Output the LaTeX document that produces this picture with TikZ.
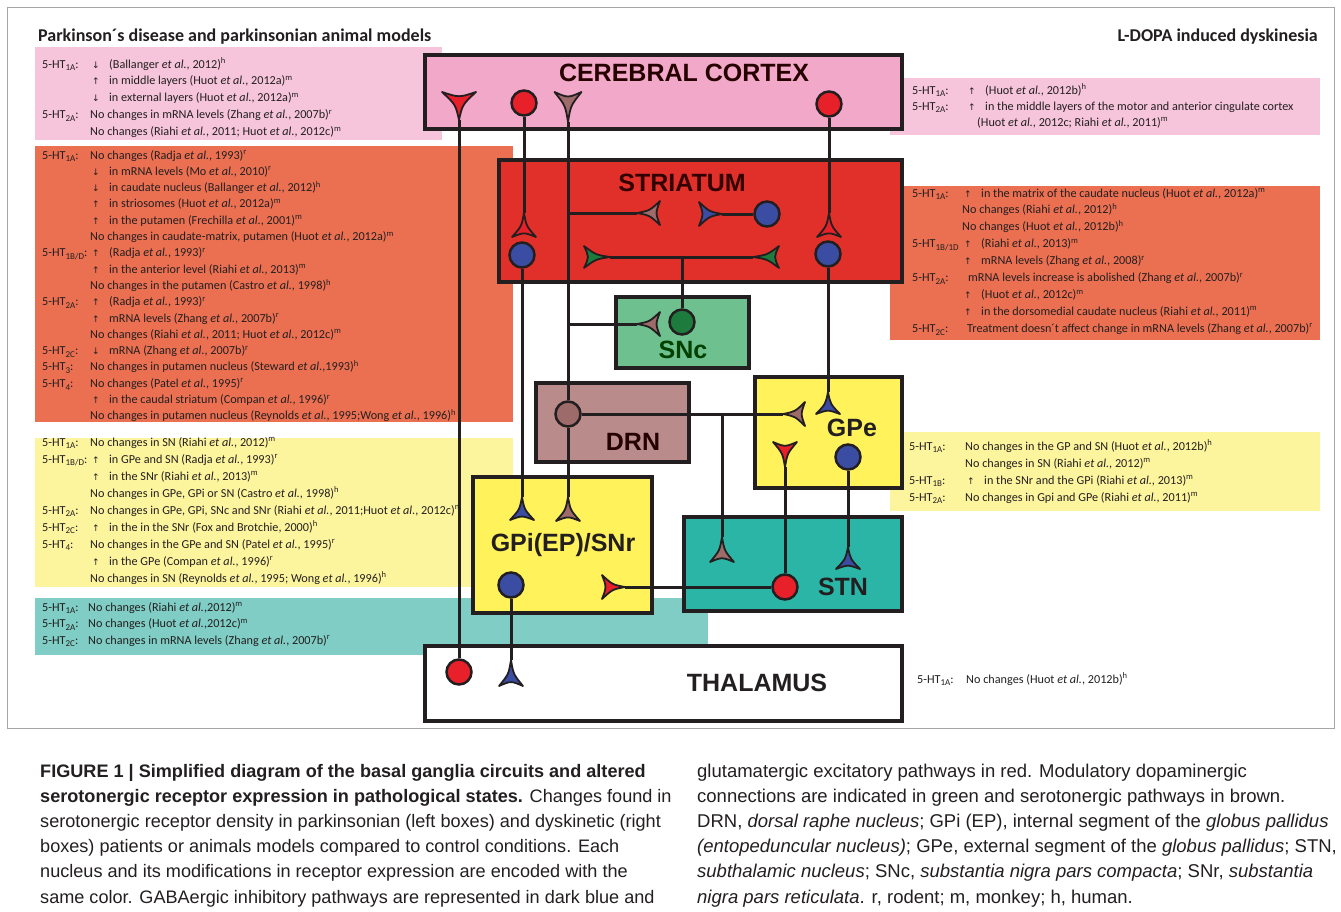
\documentclass[tikz,border=0pt]{standalone}
\usepackage{fontspec}
\setmainfont{Carlito}
\newfontfamily\lblfont{Liberation Sans}
\newfontfamily\capfont{Liberation Sans}
\newfontfamily\arrfont{DejaVu Sans}
\usetikzlibrary{fit}

\definecolor{edge}{HTML}{231F20}
\definecolor{txt}{HTML}{231F20}
\definecolor{tpink}{HTML}{F6C5DB}
\definecolor{cpink}{HTML}{F1A8C9}
\definecolor{torange}{HTML}{EB7052}
\definecolor{sred}{HTML}{E1302A}
\definecolor{sncg}{HTML}{6EC18E}
\definecolor{drnc}{HTML}{B98B8A}
\definecolor{nyel}{HTML}{FFF25B}
\definecolor{tyel}{HTML}{FDF59E}
\definecolor{stnt}{HTML}{2BB5A6}
\definecolor{tteal}{HTML}{7FCDC5}
\definecolor{cred}{HTML}{E8202A}
\definecolor{cblue}{HTML}{3A4DA2}
\definecolor{cbrown}{HTML}{9D6C6A}
\definecolor{cgreen}{HTML}{1E7B3E}

\newlength\lw
\newcommand\sbx[1]{\raisebox{-0.5ex}{\fontsize{9}{9}\selectfont #1}}
\newcommand\HT[1]{5-HT\sbx{#1}:}
\newcommand\HTn[1]{5-HT\sbx{#1}}
\newcommand\Lab[1]{\makebox[\lw][l]{\HT{#1}}}
\newcommand\Labn[1]{\makebox[\lw][l]{\HTn{#1}}}
\newcommand\Ind{\makebox[\lw]{}}
\newcommand\Up{\makebox[19pt][l]{\hspace{2pt}{\arrfont\fontsize{9}{9}\selectfont ↑}}}
\newcommand\Dn{\makebox[19pt][l]{\hspace{2pt}{\arrfont\fontsize{9}{9}\selectfont ↓}}}
\newcommand\etal{\textit{et al.}}
\newcommand\Sx[1]{\textsuperscript{#1}}

\tikzset{
  nbox/.style={draw=edge, line width=3.5pt, inner sep=0pt},
  wire/.style={draw=edge, line width=3pt},
  cell/.style={circle, draw=edge, line width=2.5pt, minimum size=25pt, inner sep=0pt},
  lab/.style={font=\lblfont\bfseries\fontsize{25}{25}\selectfont, inner sep=0pt},
  tblk/.style={anchor=base west, inner sep=0pt, text=txt, font=\fontsize{12.2}{#1}\selectfont},
  captxt/.style={anchor=base west, inner sep=0pt, text=txt, font=\capfont\fontsize{#1}{25.2}\selectfont},
  pics/syn/.style n args={3}{code={
    \filldraw[fill=#1, draw=edge, line width=1.8pt, line join=round]
      (0,0) .. controls ({0.55*#2},{0.1*#3}) .. ({#2},{0.5*#3})
      .. controls ({0.8*#2},0) .. ({#2},{-0.5*#3})
      .. controls ({0.55*#2},{-0.1*#3}) .. (0,0) -- cycle;
  }}
}

\begin{document}
\begin{tikzpicture}[x=1pt,y=-1pt]
\useasboundingbox (0,0) rectangle (1341,911);
\fill[white] (0,0) rectangle (1341,911);
\draw[black!35, line width=0.8pt] (7,7) rectangle (1334,728);

% headers
\node[anchor=base west, inner sep=0pt, text=txt, font=\bfseries\fontsize{18}{18}\selectfont] (hdL) at (38,41) {Parkinson´s disease and parkinsonian animal models};
\node[anchor=base east, inner sep=0pt, text=txt, font=\bfseries\fontsize{18}{18}\selectfont] (hdR) at (1318,41) {L-DOPA induced dyskinesia};

% text backgrounds
\fill[tpink] (35,47) rectangle (442,140);
\fill[torange] (35,146) rectangle (513,422);
\fill[tyel] (35,438) rectangle (513,587);
\fill[tteal] (35,598) rectangle (708,655);
\fill[tpink] (890,78) rectangle (1320,135);
\fill[torange] (890,186) rectangle (1320,340);
\fill[tyel] (890,432) rectangle (1320,511);

% left texts
\node[tblk=16.9] (tPinkL) at (42,68) {\parbox[t]{480pt}{\setlength\lw{48pt}%
\Lab{1A}\Dn(Ballanger \etal, 2012)\Sx{h}\\
\Ind\Up in middle layers (Huot \etal, 2012a)\Sx{m}\\
\Ind\Dn in external layers (Huot \etal, 2012a)\Sx{m}\\
\Lab{2A}No changes in mRNA levels (Zhang \etal, 2007b)\Sx{r}\\
\Ind No changes (Riahi \etal, 2011; Huot \etal, 2012c)\Sx{m}}};

\node[tblk=16.3] (tOrL) at (42,159) {\parbox[t]{480pt}{\setlength\lw{48pt}%
\Lab{1A}No changes (Radja \etal, 1993)\Sx{r}\\
\Ind\Dn in mRNA levels (Mo \etal, 2010)\Sx{r}\\
\Ind\Dn in caudate nucleus (Ballanger \etal, 2012)\Sx{h}\\
\Ind\Up in striosomes (Huot \etal, 2012a)\Sx{m}\\
\Ind\Up in the putamen (Frechilla \etal, 2001)\Sx{m}\\
\Ind No changes in caudate-matrix, putamen (Huot \etal, 2012a)\Sx{m}\\
\Lab{1B/D}\Up(Radja \etal, 1993)\Sx{r}\\
\Ind\Up in the anterior level (Riahi \etal, 2013)\Sx{m}\\
\Ind No changes in the putamen (Castro \etal, 1998)\Sx{h}\\
\Lab{2A}\Up(Radja \etal, 1993)\Sx{r}\\
\Ind\Up mRNA levels (Zhang \etal, 2007b)\Sx{r}\\
\Ind No changes (Riahi \etal, 2011; Huot \etal, 2012c)\Sx{m}\\
\Lab{2C}\Dn mRNA (Zhang \etal, 2007b)\Sx{r}\\
\Lab{3}No changes in putamen nucleus (Steward \etal,1993)\Sx{h}\\
\Lab{4}No changes (Patel \etal, 1995)\Sx{r}\\
\Ind\Up in the caudal striatum (Compan \etal, 1996)\Sx{r}\\
\Ind No changes in putamen nucleus (Reynolds \etal, 1995;Wong \etal, 1996)\Sx{h}}};

\node[tblk=17] (tYelL) at (42,446) {\parbox[t]{480pt}{\setlength\lw{48pt}%
\Lab{1A}No changes in SN (Riahi \etal, 2012)\Sx{m}\\
\Lab{1B/D}\Up in GPe and SN (Radja \etal, 1993)\Sx{r}\\
\Ind\Up in the SNr (Riahi \etal, 2013)\Sx{m}\\
\Ind No changes in GPe, GPi or SN (Castro \etal, 1998)\Sx{h}\\
\Lab{2A}No changes in GPe, GPi, SNc and SNr (Riahi \etal, 2011;Huot \etal, 2012c)\Sx{m}\\
\Lab{2C}\Up in the in the SNr (Fox and Brotchie, 2000)\Sx{h}\\
\Lab{4}No changes in the GPe and SN (Patel \etal, 1995)\Sx{r}\\
\Ind\Up in the GPe (Compan \etal, 1996)\Sx{r}\\
\Ind No changes in SN (Reynolds \etal, 1995; Wong \etal, 1996)\Sx{h}}};

\node[tblk=16.5] (tTealL) at (42,611) {\parbox[t]{480pt}{\setlength\lw{46pt}%
\Lab{1A}No changes (Riahi \etal,2012)\Sx{m}\\
\Lab{2A}No changes (Huot \etal,2012c)\Sx{m}\\
\Lab{2C}No changes in mRNA levels (Zhang \etal, 2007b)\Sx{r}}};

% right texts
\node[tblk=16] (tPinkR) at (912,94) {\parbox[t]{420pt}{\setlength\lw{54pt}%
\Lab{1A}\Up(Huot \etal, 2012b)\Sx{h}\\
\Lab{2A}\Up in the middle layers of the motor and anterior cingulate cortex\\
\Ind\hspace{11pt}(Huot \etal, 2012c; Riahi \etal, 2011)\Sx{m}}};

\node[tblk=16.9] (tOrR) at (912,197) {\parbox[t]{420pt}{\setlength\lw{50pt}%
\Lab{1A}\Up in the matrix of the caudate nucleus (Huot \etal, 2012a)\Sx{m}\\
\Ind No changes (Riahi \etal, 2012)\Sx{h}\\
\Ind No changes (Huot \etal, 2012b)\Sx{h}\\
\Labn{1B/1D}\Up(Riahi \etal, 2013)\Sx{m}\\
\Ind\Up mRNA levels (Zhang \etal, 2008)\Sx{r}\\
\Lab{2A}\hspace{6pt}mRNA levels increase is abolished (Zhang \etal, 2007b)\Sx{r}\\
\Ind\Up(Huot \etal, 2012c)\Sx{m}\\
\Ind\Up in the dorsomedial caudate nucleus (Riahi \etal, 2011)\Sx{m}\\
\Lab{2C}\hspace{5pt}Treatment doesn´t affect change in mRNA levels (Zhang \etal, 2007b)\Sx{r}}};

\node[tblk=17] (tYelR) at (909,450) {\parbox[t]{420pt}{\setlength\lw{56pt}%
\Lab{1A}No changes in the GP and SN (Huot \etal, 2012b)\Sx{h}\\
\Ind No changes in SN (Riahi \etal, 2012)\Sx{m}\\
\Lab{1B}\Up in the SNr and the GPi (Riahi \etal, 2013)\Sx{m}\\
\Lab{2A}No changes in Gpi and GPe (Riahi \etal, 2011)\Sx{m}}};

\node[tblk=17] (tThR) at (917,683) {\parbox[t]{420pt}{\setlength\lw{49pt}%
\Lab{1A}No changes (Huot \etal, 2012b)\Sx{h}}};

% nucleus boxes
\node[nbox, fill=cpink, fit={(425,55)(902,129)}] (ctx) {};
\node[nbox, fill=sred, fit={(499,160)(902,282)}] (str) {};
\node[nbox, fill=sncg, fit={(616,297)(749,368)}] (snc) {};
\node[nbox, fill=drnc, fit={(536,383)(689,462)}] (drn) {};
\node[nbox, fill=nyel, fit={(755,377)(902,488)}] (gpe) {};
\node[nbox, fill=nyel, fit={(473,477)(652,613)}] (gpi) {};
\node[nbox, fill=stnt, fit={(684,517)(902,611)}] (stn) {};
\node[nbox, fill=white, fit={(425,646)(902,721)}] (thal) {};

% labels
\node[lab, text=black!85!red] (lctx) at (684,73) {CEREBRAL CORTEX};
\node[lab, text=black!80!red] (lstr) at (682,183) {STRIATUM};
\node[lab, text=black!75!green] (lsnc) at (683,350) {SNc};
\node[lab, text=black!85!red] (ldrn) at (633,442) {DRN};
\node[lab, text=edge] (lgpe) at (852,428) {GPe};
\node[lab, text=edge] (lgpi) at (563,545) {GPi(EP)/SNr};
\node[lab, text=edge] (lstn) at (843,587) {STN};
\node[lab, text=edge] (lthal) at (757,683) {THALAMUS};

% cell bodies
\node[cell, fill=cred] (ctxR1) at (524,103) {};
\node[cell, fill=cred] (ctxR2) at (829,104) {};
\node[cell, fill=cblue] (strBl1) at (522,255) {};
\node[cell, fill=cblue] (strBl2) at (767,214) {};
\node[cell, fill=cblue] (strBl3) at (828,254) {};
\node[cell, fill=cgreen] (sncG) at (682,322) {};
\node[cell, fill=cbrown] (drnC) at (568,414) {};
\node[cell, fill=cblue] (gpeBl) at (848,457) {};
\node[cell, fill=cred] (stnR) at (785,587) {};
\node[cell, fill=cblue] (gpiBl) at (511,585) {};
\node[cell, fill=cred] (thR) at (459,672) {};

% terminals (tips)
\coordinate (ctxT) at (459,120);
\coordinate (ctxB) at (568,122);
\coordinate (strR1) at (524,213);
\coordinate (strR2) at (829,213);
\coordinate (strB) at (637,213);
\coordinate (strBlT) at (722,214);
\coordinate (gL) at (610,257);
\coordinate (gR) at (753,257);
\coordinate (sncB) at (637,324);
\coordinate (gpeB) at (783,414);
\coordinate (gpeBlT) at (828,392);
\coordinate (gpeR) at (785,467);
\coordinate (stnB) at (722,537);
\coordinate (stnBlT) at (848,547);
\coordinate (gpiBlT) at (522,497);
\coordinate (gpiB) at (568,497);
\coordinate (gpiR) at (625,587);
\coordinate (thBlT) at (511,660);

% wires
\draw[wire] (ctxT) -- (thR);
\draw[wire] (ctxR1) -- (strR1);
\draw[wire] (ctxR2) -- (strR2);
\draw[wire] (ctxB) -- (drnC);
\draw[wire] (ctxB |- strB) -- (strB);
\draw[wire] (ctxB |- sncB) -- (sncB);
\draw[wire] (strBl2) -- (strBlT);
\draw[wire] (gL) -- (gR);
\draw[wire] (sncG |- gL) -- (sncG);
\draw[wire] (strBl1) -- (gpiBlT);
\draw[wire] (strBl3) -- (gpeBlT);
\draw[wire] (drnC) -- (gpiB);
\draw[wire] (drnC) -- (gpeB);
\draw[wire] (stnB |- gpeB) -- (stnB);
\draw[wire] (gpeBl) -- (stnBlT);
\draw[wire] (stnR) -- (gpeR);
\draw[wire] (stnR) -- (gpiR);
\draw[wire] (gpiBl) -- (thBlT);

% terminal shapes
\pic[rotate=90] at (ctxT) {syn={cred}{28}{34}};
\pic[rotate=90] at (ctxB) {syn={cbrown}{30}{27}};
\pic[rotate=-90] at (strR1) {syn={cred}{24}{24}};
\pic[rotate=-90] at (strR2) {syn={cred}{24}{24}};
\pic[rotate=0] at (strB) {syn={cbrown}{23}{24}};
\pic[rotate=180] at (strBlT) {syn={cblue}{23}{24}};
\pic[rotate=180] at (gL) {syn={cgreen}{26}{22}};
\pic[rotate=0] at (gR) {syn={cgreen}{26}{22}};
\pic[rotate=0] at (sncB) {syn={cbrown}{23}{24}};
\pic[rotate=0] at (gpeB) {syn={cbrown}{22}{24}};
\pic[rotate=-90] at (gpeBlT) {syn={cblue}{22}{24}};
\pic[rotate=90] at (gpeR) {syn={cred}{25}{24}};
\pic[rotate=-90] at (stnB) {syn={cbrown}{25}{24}};
\pic[rotate=-90] at (stnBlT) {syn={cblue}{22}{24}};
\pic[rotate=-90] at (gpiBlT) {syn={cblue}{23}{24}};
\pic[rotate=-90] at (gpiB) {syn={cbrown}{24}{24}};
\pic[rotate=180] at (gpiR) {syn={cred}{23}{24}};
\pic[rotate=-90] at (thBlT) {syn={cblue}{26}{24}};

% caption
\node[captxt=18.1] (capL) at (40,777) {\parbox[t]{650pt}{%
{\bfseries FIGURE 1 | Simplified diagram of the basal ganglia circuits and altered}\\
{\bfseries serotonergic receptor expression in pathological states.} Changes found in\\
serotonergic receptor density in parkinsonian (left boxes) and dyskinetic (right\\
boxes) patients or animals models compared to control conditions. Each\\
nucleus and its modifications in receptor expression are encoded with the\\
same color. GABAergic inhibitory pathways are represented in dark blue and}};
\node[captxt=18.5] (capR) at (697,777) {\parbox[t]{660pt}{%
glutamatergic excitatory pathways in red. Modulatory dopaminergic\\
connections are indicated in green and serotonergic pathways in brown.\\
DRN, \textit{dorsal raphe nucleus}; GPi (EP), internal segment of the \textit{globus pallidus}\\
\textit{(entopeduncular nucleus)}; GPe, external segment of the \textit{globus pallidus}; STN,\\
\textit{subthalamic nucleus}; SNc, \textit{substantia nigra pars compacta}; SNr, \textit{substantia}\\
\textit{nigra pars reticulata}. r, rodent; m, monkey; h, human.}};
\end{tikzpicture}
\end{document}
